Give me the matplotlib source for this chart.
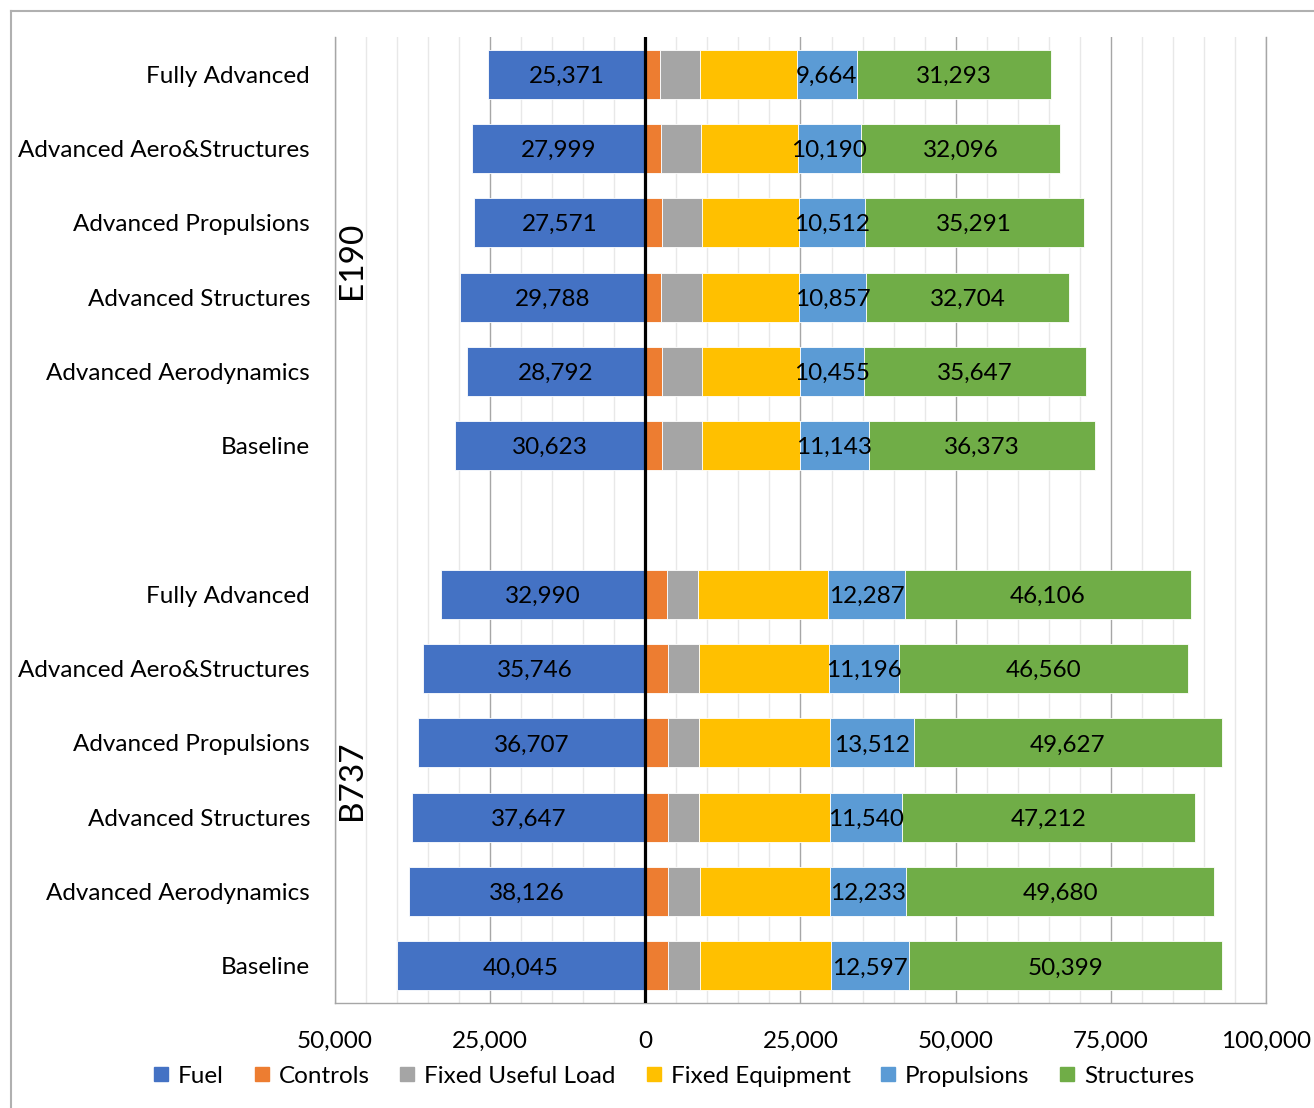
import matplotlib
matplotlib.use("Agg")
import matplotlib.pyplot as plt
from matplotlib.ticker import FuncFormatter, MultipleLocator
from matplotlib.lines import Line2D

plt.rcParams['font.family'] = ['Lato', 'DejaVu Sans']

# Rows, top to bottom
categories = ["Fully Advanced", "Advanced Aero&Structures", "Advanced Propulsions",
              "Advanced Structures", "Advanced Aerodynamics", "Baseline",
              "",
              "Fully Advanced", "Advanced Aero&Structures", "Advanced Propulsions",
              "Advanced Structures", "Advanced Aerodynamics", "Baseline"]
groups = ["E190", "B737"]

fuel        = [25371, 27999, 27571, 29788, 28792, 30623, None, 32990, 35746, 36707, 37647, 38126, 40045]
controls    = [2350, 2510, 2630, 2510, 2680, 2680, None, 3430, 3590, 3590, 3640, 3640, 3690]
fixed_load  = [6440, 6440, 6440, 6550, 6440, 6490, None, 5040, 5040, 5040, 4990, 5100, 5100]
fixed_equip = [15620, 15570, 15730, 15670, 15730, 15730, None, 21040, 20980, 21140, 21140, 21040, 21090]
propulsions = [9664, 10190, 10512, 10857, 10455, 11143, None, 12287, 11196, 13512, 11540, 12233, 12597]
structures  = [31293, 32096, 35291, 32704, 35647, 36373, None, 46106, 46560, 49627, 47212, 49680, 50399]

series_names = ["Fuel", "Controls", "Fixed Useful Load", "Fixed Equipment", "Propulsions", "Structures"]
colors = ["#4472C4", "#ED7D31", "#A5A5A5", "#FFC000", "#5B9BD5", "#70AD47"]

fig = plt.figure(figsize=(13.14, 11.08), dpi=100)
ax = fig.add_axes([335/1314, 1-1003/1108, (1266-335)/1314, (1003-37)/1108])

# figure border (top and left visible)
fig.add_artist(Line2D([11/1314, 11/1314], [0, 1-11/1108], transform=fig.transFigure,
                      color="#B0B0B0", lw=1.5))
fig.add_artist(Line2D([11/1314, 1], [1-11/1108, 1-11/1108], transform=fig.transFigure,
                      color="#B0B0B0", lw=1.5))

h = 0.66
fs = 17.5
lfs = 17.5
for i in range(len(categories)):
    if fuel[i] is None:
        continue
    ax.barh(i, -fuel[i], height=h, color=colors[0], edgecolor="white", linewidth=0.6, zorder=3)
    left = 0
    vals = [controls[i], fixed_load[i], fixed_equip[i], propulsions[i], structures[i]]
    for v, c in zip(vals, colors[1:]):
        ax.barh(i, v, left=left, height=h, color=c, edgecolor="white", linewidth=0.6, zorder=3)
        left += v
    ax.text(-fuel[i]/2, i, f"{fuel[i]:,}", ha="center", va="center_baseline", fontsize=lfs, zorder=5)
    p0 = controls[i] + fixed_load[i] + fixed_equip[i]
    ax.text(p0 + propulsions[i]/2, i, f"{propulsions[i]:,}", ha="center", va="center_baseline", fontsize=lfs, zorder=5)
    s0 = p0 + propulsions[i]
    ax.text(s0 + structures[i]/2, i, f"{structures[i]:,}", ha="center", va="center_baseline", fontsize=lfs, zorder=5)

ax.axvline(0, color="black", lw=2.3, zorder=4)

ax.set_xlim(-50000, 100000)
ax.set_ylim(len(categories)-0.5, -0.5)
ax.xaxis.set_major_locator(MultipleLocator(25000))
ax.xaxis.set_minor_locator(MultipleLocator(5000))
ax.xaxis.set_major_formatter(FuncFormatter(lambda v, p: f"{abs(int(round(v))):,}"))
ax.grid(True, which="minor", axis="x", color="#E8E8E8", lw=1, zorder=0)
ax.grid(True, which="major", axis="x", color="#A6A6A6", lw=1, zorder=1)
ax.tick_params(axis="x", which="both", length=0, labelsize=fs, pad=20)
ax.tick_params(axis="y", length=0, labelsize=fs, pad=18)
ax.set_yticks(range(len(categories)))
ax.set_yticklabels(categories)

ax.spines["top"].set_visible(False)
for side in ["left", "right", "bottom"]:
    ax.spines[side].set_color("#A6A6A6")
    ax.spines[side].set_linewidth(1)

# group labels
ax.text(-47300, 2.5, groups[0], rotation=90, ha="center", va="center", fontsize=24, zorder=5)
ax.text(-47300, 9.5, groups[1], rotation=90, ha="center", va="center", fontsize=24, zorder=5)

handles = [Line2D([], [], marker="s", linestyle="none", markersize=10, color=c) for c in colors]
fig.legend(handles, series_names, loc="center", bbox_to_anchor=(673/1314, 1-1076/1108),
           ncol=6, frameon=False, fontsize=fs, handlelength=0.8, handletextpad=0.3,
           columnspacing=1.15)

fig.savefig("out.png", dpi=100)
